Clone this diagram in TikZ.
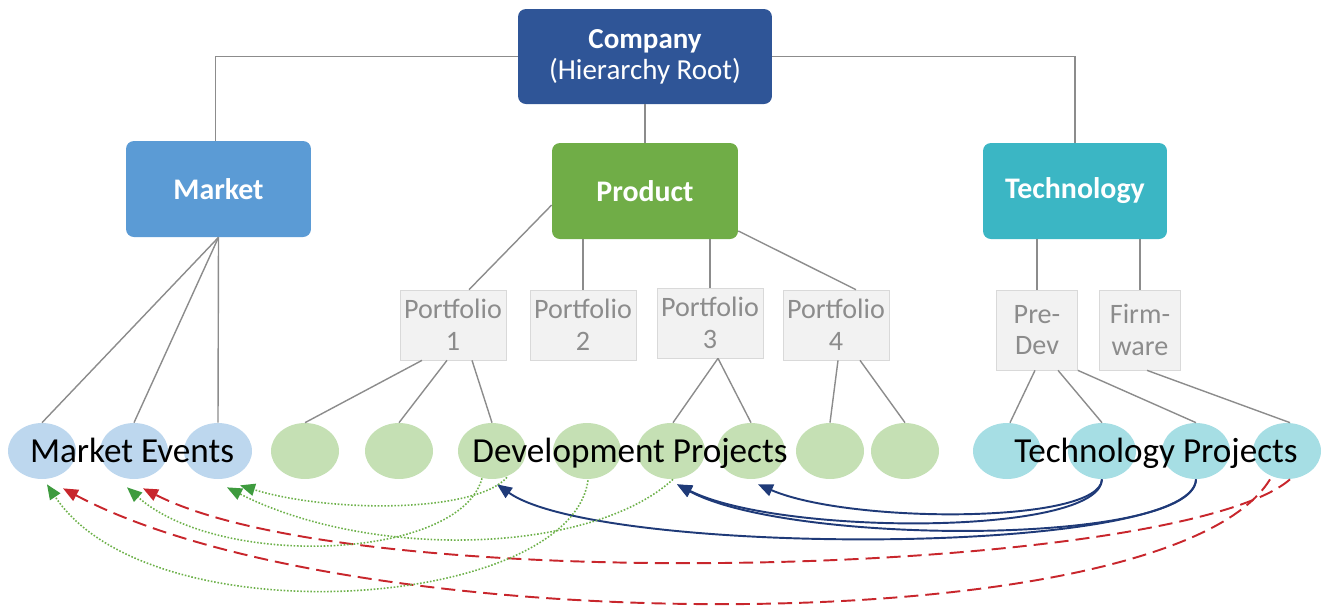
\documentclass[tikz,border=0pt]{standalone}
\usepackage{fontspec}
\setmainfont{Carlito}
\usetikzlibrary{shapes.geometric}
\usetikzlibrary{positioning}
\usetikzlibrary{arrows.meta}
\usetikzlibrary{calc}
\definecolor{rootblue}{HTML}{2F5597}
\definecolor{mktblue}{HTML}{5B9BD5}
\definecolor{prodgreen}{HTML}{70AD47}
\definecolor{techteal}{HTML}{3BB6C4}
\definecolor{evblue}{HTML}{BDD7EE}
\definecolor{evgreen}{HTML}{C5E0B4}
\definecolor{evteal}{HTML}{A6DEE4}
\definecolor{folfill}{HTML}{F2F2F2}
\definecolor{folline}{HTML}{D9D9D9}
\definecolor{foltext}{HTML}{8C8C8C}
\definecolor{treegray}{HTML}{8C8C8C}
\definecolor{navyline}{HTML}{1F3A78}
\definecolor{dotgreen}{HTML}{6DB14A}
\definecolor{tipgreen}{HTML}{3E9B3E}
\definecolor{dashred}{HTML}{C8262C}
\tikzset{
    rootnode/.style = {rectangle, rounded corners=4.5pt, fill=rootblue, text=white, align=center, minimum width=5.08cm, minimum height=1.9cm, font=\fontsize{16.5}{17.5}\selectfont},
    catnode/.style = {rectangle, rounded corners=4.5pt, text=white, align=center, minimum width=3.7cm, minimum height=1.92cm, font=\fontsize{17}{20}\selectfont\bfseries},
    folnode/.style = {rectangle, draw=folline, fill=folfill, text=foltext, align=center, inner sep=1pt, minimum width=2.12cm, minimum height=1.4cm, font=\fontsize{16}{18}\selectfont},
    evnode/.style = {ellipse, inner sep=0pt, minimum width=1.36cm, minimum height=1.12cm},
    biglabel/.style = {inner sep=0pt, anchor=base, font=\fontsize{20}{24}\selectfont},
    tline/.style = {draw=treegray, line width=0.8pt},
    edgeb/.style = {-{Triangle[length=8.5pt,width=7pt]}, line width=1.1pt, navyline}, % tech -> dev
    edger/.style = {-{Triangle[length=8.5pt,width=7pt]}, line width=1.1pt, dashred, dash pattern=on 8pt off 4pt}, % tech -> market
    edgeg/.style = {-{Triangle[length=8.5pt,width=7pt,color=tipgreen]}, line width=0.9pt, dotgreen, dash pattern=on 0.9pt off 1pt} % dev -> market
}
\begin{document}
\begin{tikzpicture}[x=0.02cm, y=-0.02cm]
  \useasboundingbox (0,0) rectangle (1322,610);

  \node[rootnode] at (645,56.5) (root) {\textbf{Company}\\(Hierarchy Root)};
  \node[catnode, fill=mktblue] at (218.5,189) (mkt) {Market};
  \node[catnode, fill=prodgreen, minimum width=3.72cm] at (645,191) (prod) {Product};
  \node[catnode, fill=techteal, minimum width=3.68cm] at (1075,191) (tech) {Technology};

  \node[folnode] at (453,325) (p1) {Portfolio\\1};
  \node[folnode] at (583,325) (p2) {Portfolio\\2};
  \node[folnode] at (710,323) (p3) {Portfolio\\3};
  \node[folnode] at (836,325) (p4) {Portfolio\\4};
  \node[folnode, minimum width=1.62cm, minimum height=1.6cm] at (1037,330) (pre) {Pre-\\Dev};
  \node[folnode, minimum width=1.62cm, minimum height=1.6cm] at (1140,330) (firm) {Firm-\\ware};

  \node[evnode, fill=evblue] at (42,451) (mk1) {};
  \node[evnode, fill=evblue] at (134,451) (mk2) {};
  \node[evnode, fill=evblue] at (218,451) (mk3) {};
  \node[evnode, fill=evgreen] at (305,451) (dv1) {};
  \node[evnode, fill=evgreen] at (399,451) (dv2) {};
  \node[evnode, fill=evgreen] at (492,451) (dv3) {};
  \node[evnode, fill=evgreen] at (587,451) (dv4) {};
  \node[evnode, fill=evgreen] at (671,451) (dv5) {};
  \node[evnode, fill=evgreen] at (751,451) (dv6) {};
  \node[evnode, fill=evgreen] at (830,451) (dv7) {};
  \node[evnode, fill=evgreen] at (905,451) (dv8) {};
  \node[evnode, fill=evteal] at (1007,451) (tp1) {};
  \node[evnode, fill=evteal] at (1102,451) (tp2) {};
  \node[evnode, fill=evteal] at (1196,451) (tp3) {};
  \node[evnode, fill=evteal] at (1287,451) (tp4) {};

  % hierarchy
  \draw[tline] (root.west) -| ($(mkt.north)+(-3,0)$);
  \draw[tline] (root.east) -| (tech.north);
  \draw[tline] (root.south) -- (prod.north);
  \draw[tline] ($(prod.west)+(0,14)$) -- ($(p1.north)+(16,0)$);
  \draw[tline] (p2.north |- prod.south) -- (p2.north);
  \draw[tline] (p3.north |- prod.south) -- (p3.north);
  \draw[tline] ($(prod.east)+(0,40)$) -- ($(p4.north)+(20,0)$);
  \draw[tline] (pre.north |- tech.south) -- (pre.north);
  \draw[tline] (firm.north |- tech.south) -- (firm.north);
  \foreach \e in {mk1,mk2,mk3}
    \draw[tline] (mkt.south) -- (\e.north);
  \draw[tline] ($(p1.south)+(-31,0)$) -- (dv1.north);
  \draw[tline] ($(p1.south)+(-6,0)$) -- (dv2.north);
  \draw[tline] ($(p1.south)+(19,0)$) -- (dv3.north);
  \draw[tline] ($(p3.south)+(8,0)$) -- ($(dv5.north)+(2,0)$);
  \draw[tline] ($(p3.south)+(8,0)$) -- (dv6.north);
  \draw[tline] ($(p4.south)+(2,0)$) -- (dv7.north);
  \draw[tline] ($(p4.south)+(24,0)$) -- (dv8.north);
  \draw[tline] ($(pre.south)+(-2,0)$) -- ($(tp1.north)+(3,0)$);
  \draw[tline] ($(pre.south)+(21,0)$) -- (tp2.north);
  \draw[tline] (pre.south east) -- (tp3.north);
  \draw[tline] ($(firm.south)+(7,0)$) -- ($(tp4.north)+(3,0)$);

  % links
  \draw[edgeb] (tp2.south) .. controls (1100,524) and (850,524) .. ($(dv6.south)+(7,5)$);
  \draw[edgeb] (tp2.south) .. controls (1100,536) and (780,536) .. ($(dv5.south)+(6,5)$);
  \draw[edgeb] (tp3.south) .. controls (1194,546) and (790,546) .. ($(dv5.south)+(6,5)$);
  \draw[edgeb] (tp3.south) .. controls (1194,557) and (600,557) .. ($(dv3.south)+(5,5)$);
  \draw[edger] ($(tp4.south)+(3,0)$) .. controls (1180,575) and (363,600) .. ($(mk2.south)+(9,9)$);
  \draw[edger] ($(tp4.south)+(-17,0)$) .. controls (1170,643) and (353,643) .. ($(mk1.south)+(21,9)$);
  \draw[edgeg] ($(dv3.south)+(15,-2)$) .. controls (475,513) and (330,513) .. ($(mk3.south)+(22,6)$);
  \draw[edgeg] ($(dv3.south)+(-10,-1)$) .. controls (460,560) and (220,570) .. ($(mk2.south)+(-7,8)$);
  \draw[edgeg] ($(dv5.south)+(2,0)$) .. controls (590,555) and (370,560) .. ($(mk3.south)+(9,8)$);
  \draw[edgeg] ($(dv4.south)+(1,1)$) .. controls (570,610) and (150,640) .. ($(mk1.south)+(5,5)$);

  \node[biglabel] at (132,462) (lblmk) {Market Events};
  \node[biglabel] at (630,462) (lbldv) {Development Projects};
  \node[biglabel] at (1156,462) (lbltp) {Technology Projects};
\end{tikzpicture}
\end{document}
